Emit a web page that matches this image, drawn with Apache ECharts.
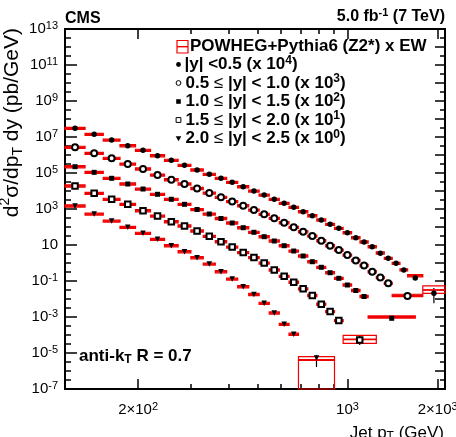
<!DOCTYPE html>
<html><head><meta charset="utf-8">
<script src="https://cdn.jsdelivr.net/npm/echarts@6/dist/echarts.min.js"></script>
<style>html,body{margin:0;padding:0;background:#fff}#c{width:456px;height:437px}</style>
</head><body><div id="c"></div>
<script>
// ---------------- data (pT bin edges in GeV, cross sections in pb/GeV incl. scale factors) -------------
const s1Edges = [114,133,153,174,196,220,245,272,300,330,362,395,430,468,507,548,592,638,686,737,790,846,905,967,1032,1101,1172,1248,1327,1410,1497,1588,1784,2116];
const s1Data = [3.04e7,1.41e7,6.81e6,3.29e6,1.83e6,9.14e5,5.08e5,2.68e5,1.47e5,8.47e4,5.08e4,3.04e4,1.73e4,1.0e4,5.99e3,3.46e3,2.07e3,1.24e3,708,424,245,141,84.7,48.2,25.5,14.7,8.05,3.46,1.82,0.96,0.41,0.147,0.0207];
const s1Theory = [3.04e7,1.41e7,6.81e6,3.29e6,1.83e6,9.14e5,5.08e5,2.68e5,1.47e5,8.47e4,5.08e4,3.04e4,1.73e4,1.0e4,5.99e3,3.46e3,2.07e3,1.24e3,708,424,245,141,84.7,48.2,25.5,14.7,8.05,3.6,1.82,0.96,0.42,0.197,0.0316];

const s2Edges = [114,133,153,174,196,220,245,272,300,330,362,395,430,468,507,548,592,638,686,737,790,846,905,967,1032,1101,1172,1248,1327,1410,1784];
const s2Data = [2.68e6,1.24e6,6.56e5,3.16e5,1.67e5,7.74e4,4.25e4,2.45e4,1.38e4,7.74e3,4.47e3,2.61e3,1.52e3,880,508,304,173,96.2,54.8,31.6,17.3,9.15,5.27,2.78,1.38,0.727,0.329,0.156,0.0745,0.0147];
const s2Theory = [2.68e6,1.24e6,6.56e5,3.16e5,1.67e5,7.74e4,4.25e4,2.45e4,1.38e4,7.74e3,4.47e3,2.61e3,1.52e3,880,508,304,173,96.2,54.8,31.6,17.3,9.15,5.27,2.78,1.38,0.727,0.329,0.156,0.0745,0.016];

const s3Edges = [114,133,153,174,196,220,245,272,300,330,362,395,430,468,507,548,592,638,686,737,790,846,905,967,1032,1101,1172,1684];
const s3Data = [2.24e5,1.09e5,5.08e4,2.45e4,1.29e4,6.56e3,3.46e3,1.82e3,938,527,297,167,91.4,50.8,28.9,16.7,9.15,4.64,2.45,1.18,0.577,0.289,0.141,0.06,0.0297,0.0138,8.47e-4];
const s3Theory = [2.24e5,1.09e5,5.08e4,2.45e4,1.29e4,6.56e3,3.46e3,1.82e3,938,527,297,167,91.4,50.8,28.9,16.7,9.15,4.64,2.45,1.18,0.577,0.289,0.141,0.06,0.0297,0.0138,1.0e-3];

const s4Edges = [114,133,153,174,196,220,245,272,300,330,362,395,430,468,507,548,592,638,686,737,790,846,905,967,1248];
const s4Data = [1.9e4,7.45e3,3.46e3,1.82e3,805,408,197,114,60,30.4,15.2,7.74,3.83,2.02,1.0,0.409,0.182,0.0858,0.0369,0.0157,5.14e-3,2.02e-3,6.39e-4,5.28e-5];
const s4Theory = [1.9e4,7.45e3,3.46e3,1.82e3,805,408,197,114,60,30.4,15.2,7.74,3.83,2.02,1.0,0.409,0.182,0.0858,0.0369,0.0157,5.14e-3,2.02e-3,6.39e-4,5.77e-5];

const s5Edges = [114,133,153,174,196,220,245,272,300,330,362,395,430,468,507,548,592,638,686,905];
const s5Data = [1.47e3,527,215,96.2,44.7,20.7,9.15,4.25,1.97,0.88,0.329,0.129,0.0482,0.0178,5.77e-3,1.67e-3,3.93e-4,1.11e-4,5.27e-6];
const s5Theory = [1.47e3,527,215,96.2,44.7,20.7,9.15,4.25,1.97,0.88,0.329,0.129,0.0482,0.0178,5.77e-3,1.67e-3,3.93e-4,1.11e-4,4.08e-6];

// theory uncertainty (fraction) : typical bins, and the last (wide) bin of each rapidity range
const thUncTypical = 0.14;
const lastBinThUp = [0.68, 0.15, 0.15, 0.67, 0.53];
const lastBinThDn = [0.35, 0.15, 0.15, 0.40, 0.99];
// data error bars on the last bin of each rapidity range
const lastBinErrLo = [5.77e-3, 0.0125, 7.0e-4, 2.78e-5, 1.67e-6];
const lastBinErrHi = [0.0408, 0.017, 1.0e-3, 8.8e-5, 7.74e-6];

// legend / labels
const theoryLabel = 'POWHEG+Pythia6 (Z2*) x EW';
const legendText = ['|y| <0.5 (x 10', '0.5 ≤ |y| < 1.0 (x 10', '1.0 ≤ |y| < 1.5 (x 10', '1.5 ≤ |y| < 2.0 (x 10', '2.0 ≤ |y| < 2.5 (x 10'];
const legendExp = ['4', '3', '2', '1', '0'];

// axes
const xMin = 114, xMax = 2116;
const xMajorTicks = [200, 1000, 2000];
const xMajorLabels = [['2×10', '2'], ['10', '3'], ['2×10', '3']];
const xMinorTicks = [300, 400, 500, 600, 700, 800, 900];
const yMinExp = -7, yMaxExp = 13, yLabelStep = 2;

// ---------------- chart ----------------
const FONT = '"Liberation Sans", Arial, Helvetica, sans-serif';
const RED = '#f20000';
const L = Math.log10;

const defs = [
  {edges: s1Edges, data: s1Data, theory: s1Theory, symbol: 'circle', size: 5.5, rotate: 0},
  {edges: s2Edges, data: s2Data, theory: s2Theory, symbol: 'emptyCircle', size: 6, rotate: 0},
  {edges: s3Edges, data: s3Data, theory: s3Theory, symbol: 'rect', size: 5, rotate: 0},
  {edges: s4Edges, data: s4Data, theory: s4Theory, symbol: 'emptyRect', size: 5.5, rotate: 0},
  {edges: s5Edges, data: s5Data, theory: s5Theory, symbol: 'triangle', size: 5.5, rotate: 180}
];

function renderTheory(params, api) {
  const x1 = api.value(0), x2 = api.value(1), yLo = api.value(2), yHi = api.value(3), yC = api.value(4);
  const p1 = api.coord([x1, yHi]);
  const p2 = api.coord([x2, yLo]);
  const pc = api.coord([x1, yC]);
  const cs = params.coordSys;
  const area = {x: cs.x, y: cs.y, width: cs.width, height: cs.height};
  const rect = echarts.graphic.clipRectByRect({x: p1[0], y: p1[1], width: p2[0] - p1[0], height: p2[1] - p1[1]}, area);
  const children = [];
  if (rect) children.push({type: 'rect', shape: rect, style: {fill: 'none', stroke: RED, lineWidth: 1.2}});
  if (pc[1] >= cs.y && pc[1] <= cs.y + cs.height) {
    children.push({type: 'line', shape: {x1: p1[0], y1: pc[1], x2: p2[0], y2: pc[1]}, style: {stroke: RED, lineWidth: 1.8}});
  }
  return {type: 'group', children};
}
function renderErr(params, api) {
  const a = api.coord([api.value(0), api.value(1)]);
  const b = api.coord([api.value(0), api.value(2)]);
  const cs = params.coordSys;
  const yb = Math.min(a[1], cs.y + cs.height), yt = Math.max(b[1], cs.y);
  return {type: 'line', shape: {x1: a[0], y1: yb, x2: a[0], y2: yt}, style: {stroke: '#000', lineWidth: 1.2}};
}

const series = [];
defs.forEach((d, k) => {
  const n = d.data.length;
  const th = [], pts = [], err = [];
  for (let i = 0; i < n; i++) {
    const lo = d.edges[i], hi = d.edges[i + 1];
    const last = i === n - 1;
    const up = last ? lastBinThUp[k] : thUncTypical;
    const dn = last ? lastBinThDn[k] : thUncTypical;
    const t = d.theory[i];
    th.push([L(lo), L(hi), L(t * (1 - dn)), L(t * (1 + up)), L(t)]);
    const xc = (L(lo) + L(hi)) / 2;
    pts.push([xc, L(d.data[i])]);
    if (last) err.push([xc, L(lastBinErrLo[k]), L(lastBinErrHi[k])]);
  }
  series.push({type: 'custom', renderItem: renderErr, data: err, encode: {x: 0, y: [1, 2]}, z: 2, silent: true});
  series.push({type: 'custom', renderItem: renderTheory, data: th, encode: {x: [0, 1], y: [2, 3, 4]}, z: 3, silent: true});
  series.push({type: 'scatter', data: pts, symbol: d.symbol, symbolSize: d.size, symbolRotate: d.rotate,
    itemStyle: {color: '#000', borderColor: '#000', borderWidth: d.symbol.indexOf('empty') === 0 ? 1 : 0, opacity: 1},
    z: 4, silent: true});
});

function xFmt(v) {
  let best = 0;
  xMajorTicks.forEach((t, i) => { if (Math.abs(L(t) - v) < Math.abs(L(xMajorTicks[best]) - v)) best = i; });
  const lab = xMajorLabels[best];
  return '{b|' + lab[0] + '}{s|' + lab[1] + '}';
}
function yFmt(v) {
  const e = Math.round(v);
  if (e === 1) return '{b|10}';
  return '{b|10}{s|' + e + '}';
}
const labRich = {
  b: {fontSize: 15, lineHeight: 18, fontFamily: FONT, color: '#000'},
  s: {fontSize: 11, lineHeight: 11, fontFamily: FONT, color: '#000', verticalAlign: 'top'}
};
function mkX(pos, ticks, len, labels) {
  return {
    type: 'value', position: pos, min: L(xMin), max: L(xMax),
    splitLine: {show: false},
    axisLine: {show: true, onZero: false, lineStyle: {color: '#000', width: 2}},
    axisTick: {show: true, inside: true, length: len, customValues: ticks.map(L), lineStyle: {color: '#000', width: 1.5}},
    axisLabel: {show: labels, customValues: ticks.map(L), margin: 12, formatter: xFmt, rich: labRich}
  };
}
function mkY(pos, labels, interval, minorSplit, majLen, minLen) {
  return {
    type: 'value', position: pos, min: yMinExp, max: yMaxExp, interval: interval,
    splitLine: {show: false}, minorSplitLine: {show: false},
    axisLine: {show: true, onZero: false, lineStyle: {color: '#000', width: 2}},
    axisTick: {show: true, inside: true, length: majLen, lineStyle: {color: '#000', width: 1.5}},
    minorTick: {show: true, splitNumber: minorSplit, length: minLen, lineStyle: {color: '#000', width: 1.5}},
    axisLabel: {show: labels, margin: 7, formatter: yFmt, rich: labRich}
  };
}

// legend + texts drawn as graphic elements
const richBold = {
  t: {fontSize: 17, fontWeight: 'bold', fontFamily: FONT, lineHeight: 20, fill: '#000'},
  l: {fontSize: 17, fontWeight: 'normal', fontFamily: FONT, lineHeight: 20, fill: '#000'},
  s: {fontSize: 12, fontWeight: 'bold', fontFamily: FONT, lineHeight: 12, fill: '#000', verticalAlign: 'top'},
  sb: {fontSize: 12, fontWeight: 'bold', fontFamily: FONT, lineHeight: 12, fill: '#000', verticalAlign: 'bottom'}
};
function legRich(txt, exp) {
  return '{t|' + txt.replace(/≤/g, '}{l|≤}{t|') + '}{s|' + exp + '}{t|)}';
}
const legY = [64.5, 83, 101.5, 120, 138.5];
const symX = 178.5;
const graphics = [];
graphics.push({type: 'rect', shape: {x: 177, y: 40.5, width: 11, height: 12.5}, style: {fill: 'none', stroke: RED, lineWidth: 1.2}});
graphics.push({type: 'line', shape: {x1: 177, y1: 46.7, x2: 188, y2: 46.7}, style: {stroke: RED, lineWidth: 1.4}});
graphics.push({type: 'text', x: 190, y: 46.7, style: {text: '{t|' + theoryLabel + '}', rich: richBold, align: 'left', verticalAlign: 'middle'}});
graphics.push({type: 'circle', shape: {cx: symX, cy: legY[0], r: 2.4}, style: {fill: '#000'}});
graphics.push({type: 'circle', shape: {cx: symX, cy: legY[1], r: 2.4}, style: {fill: '#fff', stroke: '#000', lineWidth: 1}});
graphics.push({type: 'rect', shape: {x: symX - 2.3, y: legY[2] - 2.3, width: 4.6, height: 4.6}, style: {fill: '#000'}});
graphics.push({type: 'rect', shape: {x: symX - 2.4, y: legY[3] - 2.4, width: 4.8, height: 4.8}, style: {fill: '#fff', stroke: '#000', lineWidth: 1}});
graphics.push({type: 'polygon', shape: {points: [[symX - 2.8, legY[4] - 2.3], [symX + 2.8, legY[4] - 2.3], [symX, legY[4] + 2.8]]}, style: {fill: '#000'}});
legendText.forEach((t, i) => {
  graphics.push({type: 'text', x: i === 0 ? 184.5 : 185.5, y: legY[i], style: {text: legRich(t, legendExp[i]), rich: richBold, align: 'left', verticalAlign: 'middle'}});
});
graphics.push({type: 'text', x: 65, y: 18.3, style: {text: '{t|CMS}', rich: {t: {fontSize: 16, fontWeight: 'bold', fontFamily: FONT, fill: '#000', lineHeight: 18}}, align: 'left', verticalAlign: 'middle'}});
graphics.push({type: 'text', x: 445, y: 16.5, style: {text: '{t|5.0 fb}{s|-1}{t| (7 TeV)}', rich: {
  t: {fontSize: 16, fontWeight: 'bold', fontFamily: FONT, fill: '#000', lineHeight: 19},
  s: {fontSize: 11, fontWeight: 'bold', fontFamily: FONT, fill: '#000', lineHeight: 11, verticalAlign: 'top'}}, align: 'right', verticalAlign: 'middle'}});
graphics.push({type: 'text', x: 79, y: 356, style: {text: '{t|anti-k}{sb|T}{t| R = 0.7}', rich: richBold, align: 'left', verticalAlign: 'middle'}});
graphics.push({type: 'text', x: 444, y: 423, style: {text: '{n|Jet p}{sb|T}{n| (GeV)}', rich: {
  n: {fontSize: 17, fontFamily: FONT, fill: '#000', lineHeight: 20},
  sb: {fontSize: 12, fontFamily: FONT, fill: '#000', lineHeight: 12, verticalAlign: 'bottom'}}, align: 'right', verticalAlign: 'top'}});
graphics.push({type: 'text', x: 12, y: 28, rotation: Math.PI / 2, style: {text: '{n|d}{sp|2}{n|σ/dp}{sb|T}{n| dy (pb/GeV)}', rich: {
  n: {fontSize: 21, fontFamily: FONT, fill: '#000', lineHeight: 27},
  sp: {fontSize: 14, fontFamily: FONT, fill: '#000', lineHeight: 14, verticalAlign: 'top'},
  sb: {fontSize: 14, fontFamily: FONT, fill: '#000', lineHeight: 14, verticalAlign: 'bottom'}}, align: 'right', verticalAlign: 'middle'}});

const option = {
  animation: false,
  backgroundColor: '#fff',
  grid: {left: 65, right: 11, top: 29, bottom: 48, outerBoundsMode: 'none', containLabel: false},
  xAxis: [
    mkX('bottom', xMinorTicks, 5, false),
    mkX('bottom', xMajorTicks, 10, true),
    mkX('top', xMinorTicks, 5, false),
    mkX('top', xMajorTicks, 10, false)
  ],
  yAxis: [mkY('left', true, yLabelStep, 4, 12, 6), mkY('right', false, 1, 2, 10, 5)],
  series: series,
  graphic: graphics
};
const chart = echarts.init(document.getElementById('c'), null, {renderer: 'canvas'});
chart.setOption(option);
</script>
</body></html>
